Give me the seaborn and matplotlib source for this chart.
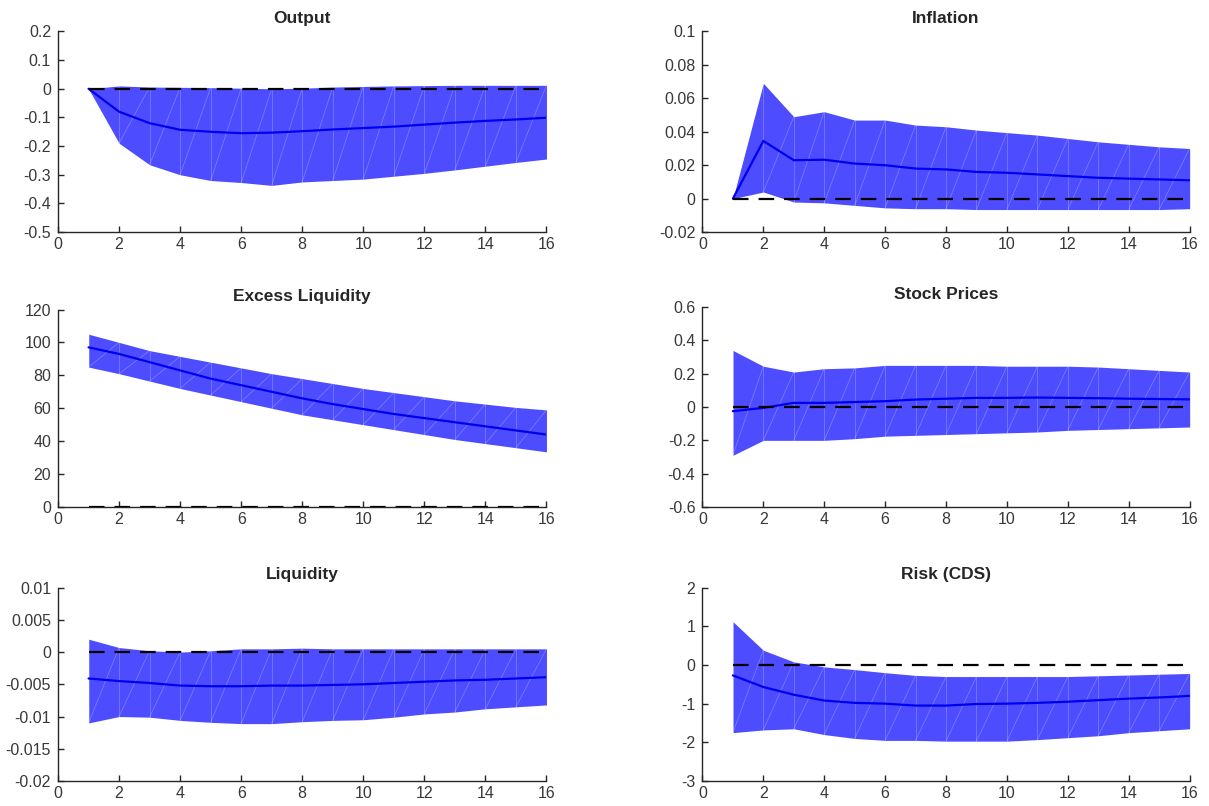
import numpy as np
import pandas as pd
import matplotlib
matplotlib.use("Agg")
import matplotlib.pyplot as plt
import seaborn as sns

# horizon (quarters)
horizon = list(range(1, 17))

titles = ["Output", "Inflation", "Excess Liquidity", "Stock Prices", "Liquidity", "Risk (CDS)"]

# Output
output_med = [0, -0.08, -0.12, -0.143, -0.15, -0.155, -0.153, -0.148, -0.142, -0.137, -0.132, -0.125, -0.118, -0.112, -0.107, -0.101]
output_up = [0, 0.01, 0.006, 0.005, 0.004, 0.002, 0.0, 0.002, 0.006, 0.008, 0.01, 0.011, 0.012, 0.012, 0.012, 0.012]
output_lo = [0, -0.19, -0.265, -0.3, -0.32, -0.327, -0.337, -0.325, -0.32, -0.315, -0.305, -0.295, -0.283, -0.27, -0.257, -0.245]

# Inflation
infl_med = [0, 0.0345, 0.023, 0.0233, 0.021, 0.020, 0.018, 0.0175, 0.016, 0.0155, 0.0145, 0.0135, 0.0125, 0.012, 0.0115, 0.011]
infl_up = [0, 0.069, 0.049, 0.052, 0.047, 0.047, 0.044, 0.043, 0.041, 0.0395, 0.038, 0.036, 0.034, 0.0325, 0.031, 0.030]
infl_lo = [0, 0.004, -0.002, -0.0025, -0.004, -0.0055, -0.006, -0.006, -0.0065, -0.0065, -0.0065, -0.0065, -0.0065, -0.0065, -0.0065, -0.006]

# Excess Liquidity
exliq_med = [97, 93, 88, 83, 78, 74, 70, 66, 62.5, 59.5, 56.5, 54, 51.5, 49, 46.5, 44]
exliq_up = [105, 100, 95, 91.5, 88, 84.5, 81, 78, 75, 72, 69.5, 67, 64.5, 62.5, 60.5, 59]
exliq_lo = [85, 81, 76.5, 72, 68, 64, 60, 56, 53, 50, 47, 44, 41, 38.5, 36, 33.5]

# Stock Prices
stock_med = [-0.025, -0.005, 0.025, 0.025, 0.03, 0.035, 0.045, 0.05, 0.055, 0.055, 0.057, 0.055, 0.053, 0.05, 0.048, 0.046]
stock_up = [0.34, 0.245, 0.21, 0.23, 0.235, 0.25, 0.25, 0.25, 0.25, 0.245, 0.245, 0.245, 0.24, 0.23, 0.22, 0.21]
stock_lo = [-0.29, -0.2, -0.2, -0.2, -0.19, -0.175, -0.17, -0.165, -0.16, -0.155, -0.15, -0.14, -0.135, -0.13, -0.125, -0.12]

# Liquidity
liq_med = [-0.0041, -0.0045, -0.0048, -0.0052, -0.0053, -0.0053, -0.0052, -0.0052, -0.0051, -0.005, -0.0048, -0.0046, -0.0044, -0.0043, -0.0041, -0.0039]
liq_up = [0.002, 0.0007, 0.0002, 0.0, 0.0002, 0.0005, 0.0005, 0.0006, 0.0005, 0.0005, 0.0005, 0.0005, 0.0005, 0.0005, 0.0005, 0.0005]
liq_lo = [-0.011, -0.01, -0.0101, -0.0106, -0.0109, -0.0111, -0.0111, -0.0108, -0.0106, -0.0105, -0.0101, -0.0096, -0.0093, -0.0088, -0.0085, -0.0082]

# Risk (CDS)
cds_med = [-0.27, -0.57, -0.77, -0.92, -0.98, -1.0, -1.05, -1.05, -1.01, -1.0, -0.98, -0.95, -0.91, -0.87, -0.84, -0.80]
cds_up = [1.12, 0.38, 0.08, -0.05, -0.12, -0.2, -0.27, -0.3, -0.3, -0.3, -0.3, -0.3, -0.28, -0.26, -0.24, -0.22]
cds_lo = [-1.75, -1.68, -1.65, -1.8, -1.9, -1.95, -1.95, -1.97, -1.97, -1.97, -1.93, -1.88, -1.83, -1.75, -1.7, -1.65]

medians = [output_med, infl_med, exliq_med, stock_med, liq_med, cds_med]
uppers = [output_up, infl_up, exliq_up, stock_up, liq_up, cds_up]
lowers = [output_lo, infl_lo, exliq_lo, stock_lo, liq_lo, cds_lo]

ylims = [(-0.5, 0.2), (-0.02, 0.1), (0, 120), (-0.6, 0.6), (-0.02, 0.01), (-3, 2)]
yticks = [
    [-0.5, -0.4, -0.3, -0.2, -0.1, 0, 0.1, 0.2],
    [-0.02, 0, 0.02, 0.04, 0.06, 0.08, 0.1],
    [0, 20, 40, 60, 80, 100, 120],
    [-0.6, -0.4, -0.2, 0, 0.2, 0.4, 0.6],
    [-0.02, -0.015, -0.01, -0.005, 0, 0.005, 0.01],
    [-3, -2, -1, 0, 1, 2],
]
yticklabels = [
    ["-0.5", "-0.4", "-0.3", "-0.2", "-0.1", "0", "0.1", "0.2"],
    ["-0.02", "0", "0.02", "0.04", "0.06", "0.08", "0.1"],
    ["0", "20", "40", "60", "80", "100", "120"],
    ["-0.6", "-0.4", "-0.2", "0", "0.2", "0.4", "0.6"],
    ["-0.02", "-0.015", "-0.01", "-0.005", "0", "0.005", "0.01"],
    ["-3", "-2", "-1", "0", "1", "2"],
]

sns.set_style("ticks")
plt.rcParams["font.family"] = ["Liberation Sans", "DejaVu Sans"]
plt.rcParams["xtick.direction"] = "in"
plt.rcParams["ytick.direction"] = "in"

FILL = "#4d4dff"
LINE = "#0000f0"
AXC = "#262626"
LBL = "#383838"

fig = plt.figure(figsize=(12.09, 8.06), dpi=100)

# [left, bottom, width, height] in figure fractions (MATLAB subplot layout)
positions = [
    [0.048, 0.712, 0.404, 0.249],
    [0.581, 0.712, 0.403, 0.249],
    [0.048, 0.371, 0.404, 0.245],
    [0.581, 0.371, 0.403, 0.248],
    [0.048, 0.031, 0.404, 0.240],
    [0.581, 0.031, 0.403, 0.240],
]

for k in range(6):
    ax = fig.add_axes(positions[k])
    x = np.array(horizon)
    lo = np.array(lowers[k])
    up = np.array(uppers[k])
    ax.fill_between(x, lo, up, color=FILL, linewidth=0, zorder=1)
    # faint tessellation edges of the patch, like the original renderer
    for i in range(len(x)):
        ax.plot([x[i], x[i]], [lo[i], up[i]], color="white", lw=0.6, alpha=0.25, zorder=1.5)
        if i + 1 < len(x):
            ax.plot([x[i], x[i + 1]], [lo[i], up[i + 1]], color="white", lw=0.6, alpha=0.25, zorder=1.5)
    df = pd.DataFrame({"h": horizon, "med": medians[k], "zero": [0.0] * len(horizon)})
    sns.lineplot(data=df, x="h", y="med", ax=ax, color=LINE, linewidth=1.6, zorder=3)
    sns.lineplot(data=df, x="h", y="zero", ax=ax, color="black", linewidth=1.6,
                 dashes=False, zorder=4).lines[-1].set_dashes((7, 4.5))
    ax.set_xlim(0, 16)
    ax.set_ylim(*ylims[k])
    ax.set_xticks(range(0, 17, 2))
    ax.set_yticks(yticks[k])
    ax.set_yticklabels(yticklabels[k])
    ax.set_xlabel("")
    ax.set_ylabel("")
    ax.set_title(titles[k], fontsize=12.5, fontweight="bold", pad=6)
    for s in ["top", "right"]:
        ax.spines[s].set_visible(False)
    for s in ["left", "bottom"]:
        ax.spines[s].set_color(AXC)
        ax.spines[s].set_linewidth(1.0)
    ax.tick_params(axis="both", labelsize=11.5, colors=AXC, labelcolor=LBL, length=4, width=1.0)
    ax.tick_params(axis="y", pad=5)
    ax.tick_params(axis="x", pad=3.5)

fig.savefig("out.png", dpi=100)
